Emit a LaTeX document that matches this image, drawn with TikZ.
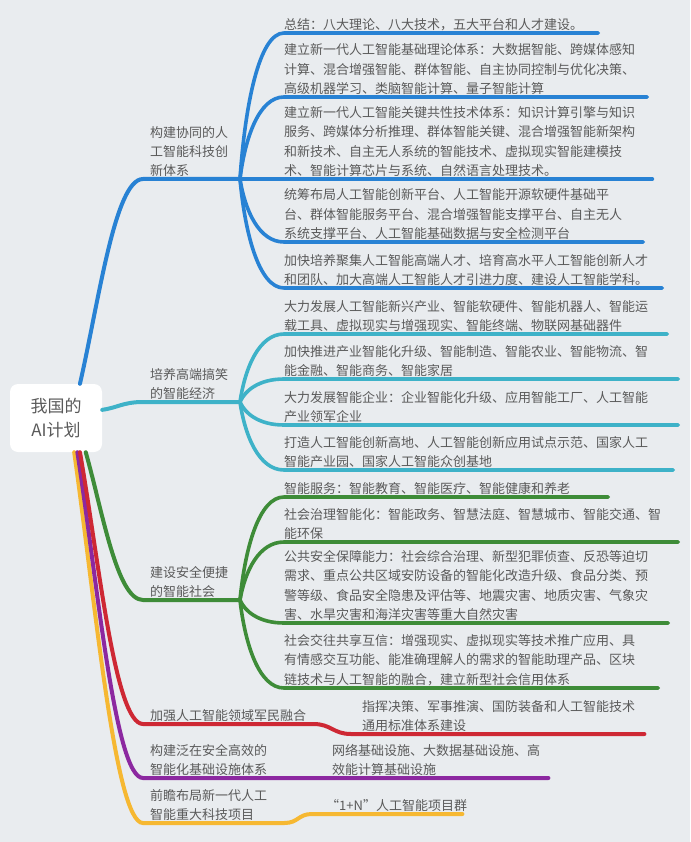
\documentclass[tikz,border=0pt]{standalone}
\usepackage{fontspec}
\setmainfont{Noto Sans CJK SC}
\usetikzlibrary{calc}

\definecolor{bgcol}{RGB}{233,236,239}
\definecolor{txtcol}{RGB}{90,90,90}
\definecolor{mmblue}{RGB}{40,130,212}
\definecolor{mmcyan}{RGB}{62,178,200}
\definecolor{mmgreen}{RGB}{62,140,56}
\definecolor{mmred}{RGB}{206,40,52}
\definecolor{mmpurple}{RGB}{140,40,160}
\definecolor{mmyellow}{RGB}{246,184,50}

\begin{document}
\begin{tikzpicture}[
    x=1pt, y=-1pt,
    rootbox/.style={fill=white, rounded corners=8pt, minimum width=92pt, minimum height=68pt, align=center, text=txtcol, font={\fontsize{17}{24}\selectfont}},
    topic/.style={anchor=south west, inner xsep=7pt, inner ysep=2pt, align=left, text=txtcol, font={\fontsize{13}{19}\selectfont}},
    leaf/.style={anchor=south west, inner xsep=0pt, inner ysep=2pt, align=left, text=txtcol, font={\fontsize{13}{19.5}\selectfont}},
    branch/.style={line width=4pt, line cap=round},
    twig/.style={line width=3.6pt, line cap=round},
]
    \useasboundingbox (0,0) rectangle (690,842);
    \fill [bgcol] (0,0) rectangle (690,842);

    \node [rootbox] (root) at (56,418) {我国的\\AI计划};

    % main topics
    \node [topic] (t1) at (143,179) {构建协同的人\\工智能科技创\\新体系};
    \node [topic] (t2) at (143,402) {培养高端搞笑\\的智能经济};
    \node [topic] (t3) at (143,600) {建设安全便捷\\的智能社会};
    \node [topic] (t4) at (143,724) {加强人工智能领域军民融合};
    \node [topic] (t5) at (143,778) {构建泛在安全高效的\\智能化基础设施体系};
    \node [topic] (t6) at (143,823) {前瞻布局新一代人工\\智能重大科技项目};

    \coordinate (j1) at (240,179);
    \coordinate (j2) at (240,402);
    \coordinate (j3) at (240,600);

    % blue leaves
    \node [leaf, text width=314pt] (b1) at (284,33) {总结：八大理论、八大技术，五大平台和人才建设。};
    \node [leaf, text width=363pt] (b2) at (284,97) {建立新一代人工智能基础理论体系：大数据智能、跨媒体感知\\计算、混合增强智能、群体智能、自主协同控制与优化决策、\\高级机器学习、类脑智能计算、量子智能计算};
    \node [leaf, text width=368pt] (b3) at (284,179) {建立新一代人工智能关键共性技术体系：知识计算引擎与知识\\服务、跨媒体分析推理、群体智能关键、混合增强智能新架构\\和新技术、自主无人系统的智能技术、虚拟现实智能建模技\\术、智能计算芯片与系统、自然语言处理技术。};
    \node [leaf, text width=359pt] (b4) at (284,242) {统筹布局人工智能创新平台、人工智能开源软硬件基础平\\台、群体智能服务平台、混合增强智能支撑平台、自主无人\\系统支撑平台、人工智能基础数据与安全检测平台};
    \node [leaf, text width=378pt] (b5) at (284,288) {加快培养聚集人工智能高端人才、培育高水平人工智能创新人才\\和团队、加大高端人工智能人才引进力度、建设人工智能学科。};

    % cyan leaves
    \node [leaf, text width=383pt] (c1) at (284,334) {大力发展人工智能新兴产业、智能软硬件、智能机器人、智能运\\载工具、虚拟现实与增强现实、智能终端、物联网基础器件};
    \node [leaf, text width=394pt] (c2) at (284,379) {加快推进产业智能化升级、智能制造、智能农业、智能物流、智\\能金融、智能商务、智能家居};
    \node [leaf, text width=394pt] (c3) at (284,425) {大力发展智能企业：企业智能化升级、应用智能工厂、人工智能\\产业领军企业};
    \node [leaf, text width=389pt] (c4) at (284,470) {打造人工智能创新高地、人工智能创新应用试点示范、国家人工\\智能产业园、国家人工智能众创基地};

    % green leaves
    \node [leaf, text width=324pt] (g1) at (284,497) {智能服务：智能教育、智能医疗、智能健康和养老};
    \node [leaf, text width=394pt] (g2) at (284,542) {社会治理智能化：智能政务、智慧法庭、智慧城市、智能交通、智\\能环保};
    \node [leaf, text width=384pt] (g3) at (284,623) {公共安全保障能力：社会综合治理、新型犯罪侦查、反恐等迫切\\需求、重点公共区域安防设备的智能化改造升级、食品分类、预\\警等级、食品安全隐患及评估等、地震灾害、地质灾害、气象灾\\害、水旱灾害和海洋灾害等重大自然灾害};
    \node [leaf, text width=374pt] (g4) at (284,688) {社会交往共享互信：增强现实、虚拟现实等技术推广应用、具\\有情感交互功能、能准确理解人的需求的智能助理产品、区块\\链技术与人工智能的融合，建立新型社会信用体系};

    % single leaves
    \node [leaf, text width=282pt] (r1) at (362,734) {指挥决策、军事推演、国防装备和人工智能技术\\通用标准体系建设};
    \node [leaf, text width=216pt] (p1) at (332,778) {网络基础设施、大数据基础设施、高\\效能计算基础设施};
    \node [leaf, text width=136pt] (y1) at (326,814) {“1+N”人工智能项目群};

    % root to topics
    \draw [branch, mmyellow] (root.-62) .. controls +(21,148) and +(-28,0) .. (t6.south west) -- ([xshift=10pt]t6.south east)
        .. controls +(14,0) and +(-14,0) .. ([xshift=-14pt]y1.south west) -- (y1.south east);
    \draw [branch, mmpurple] (root.-58) .. controls +(20,130) and +(-28,0) .. (t5.south west) -- (p1.south east);
    \draw [branch, mmred] (root.-55) .. controls +(19,109) and +(-28,0) .. (t4.south west) -- (t4.south east)
        .. controls +(18,0) and +(-18,0) .. ([xshift=-11pt]r1.south west) -- (r1.south east);
    \draw [branch, mmgreen] (root.-49) .. controls +(17,60) and +(-26,0) .. (t3.south west) -- (j3);
    \draw [branch, mmcyan] (root.10) .. controls +(15,-2) and +(-20,0) .. (t2.south west) -- (j2);
    \draw [branch, mmblue] (root.55) .. controls +(19,-83) and +(-28,0) .. (t1.south west) -- (j1);

    % topics to leaves
    \foreach \n in {b1,b2,b3,b4,b5}
        \draw [twig, mmblue] (j1) .. controls ($(j1)!.5!(\n.south west)+(-17,0)$) and +(-25,0) .. (\n.south west) -- (\n.south east);
    \foreach \n in {c1,c2,c3,c4}
        \draw [twig, mmcyan] (j2) .. controls ($(j2)!.5!(\n.south west)+(-17,0)$) and +(-25,0) .. (\n.south west) -- (\n.south east);
    \foreach \n in {g1,g2,g3,g4}
        \draw [twig, mmgreen] (j3) .. controls ($(j3)!.5!(\n.south west)+(-17,0)$) and +(-25,0) .. (\n.south west) -- (\n.south east);

\end{tikzpicture}
\end{document}
